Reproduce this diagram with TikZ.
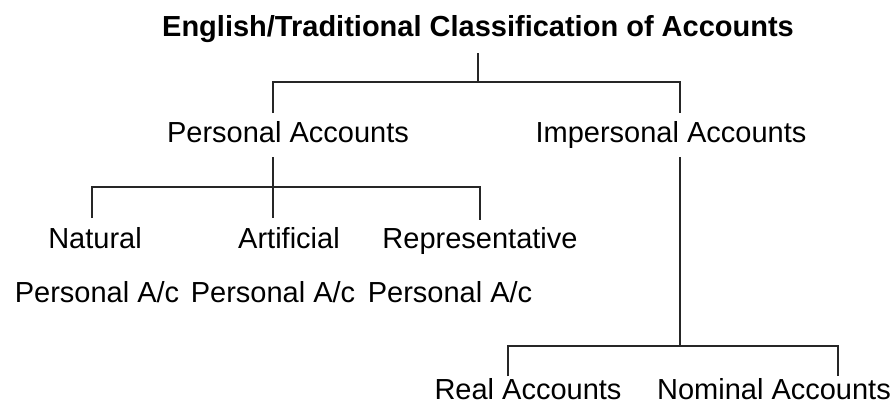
\documentclass[tikz,border=0pt]{standalone}
\usepackage{fontspec}
\setmainfont{Liberation Sans}
\usepackage{tikz}

\begin{document}
\begin{tikzpicture}[
  x=1pt, y=-1pt,
  every node/.style={anchor=base, inner sep=0pt,
    font=\fontsize{29}{34}\selectfont},
  head/.style={font=\bfseries\fontsize{29}{34}\selectfont},
  line/.style={draw=black!85, line width=2pt}
]
  \useasboundingbox (0,0) rectangle (896,405);

  \node[head] (title) at (478,36) {English/Traditional Classification of Accounts};
  \node (pers) at (288,142) {Personal Accounts};
  \node (impers) at (671,142) {Impersonal Accounts};
  \node (nat) at (95,248) {Natural};
  \node (art) at (289,248) {Artificial};
  \node (rep) at (480,248) {Representative};
  \node (natac) at (97,302) {Personal A/c};
  \node (artac) at (273,302) {Personal A/c};
  \node (repac) at (450,302) {Personal A/c};
  \node (real) at (528,399) {Real Accounts};
  \node (nom) at (774,399) {Nominal Accounts};

  % joints of the tree
  \coordinate (root) at (478,53);
  \coordinate (pers-in) at (273,113);
  \coordinate (impers-in) at (680,113);
  \coordinate (pers-out) at (273,157);
  \coordinate (nat-in) at (92,218);
  \coordinate (art-in) at (273,218);
  \coordinate (rep-in) at (480,220);
  \coordinate (impers-out) at (680,157);
  \coordinate (real-in) at (508,376);
  \coordinate (nom-in) at (838,376);

  \draw[line] (root) -- ++(0,29);
  \draw[line] (pers-in) -- ++(0,-31) -| (impers-in);
  \draw[line] (pers-out) -- (art-in);
  \draw[line] (nat-in) -- ++(0,-31) -| (rep-in);
  \draw[line] (impers-out) -- ++(0,189);
  \draw[line] (real-in) -- ++(0,-30) -| (nom-in);
\end{tikzpicture}
\end{document}
